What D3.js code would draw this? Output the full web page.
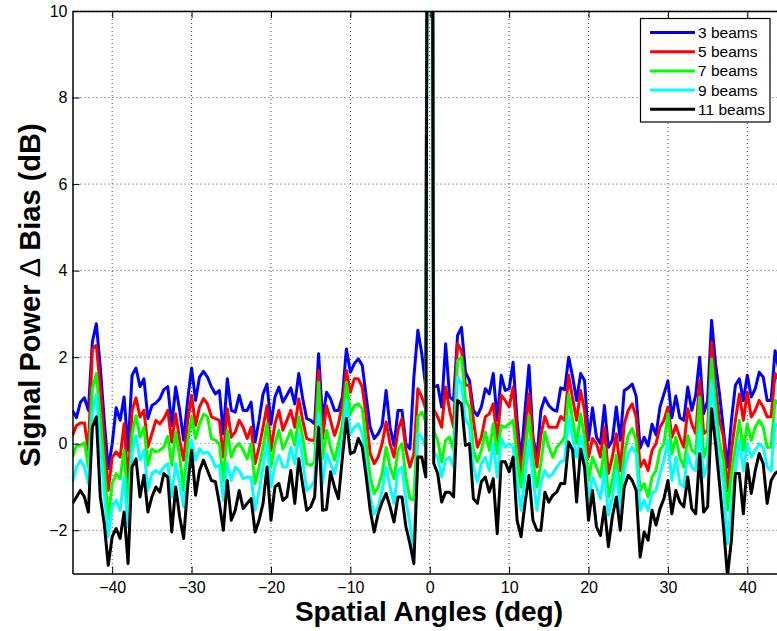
<!DOCTYPE html>
<html>
<head>
<meta charset="utf-8">
<script src="https://cdn.jsdelivr.net/npm/d3@7"></script>
<style>
body{margin:0;background:#fff;}
text{font-family:"Liberation Sans", Arial, Helvetica, sans-serif;}
</style>
</head>
<body>
<svg id="chart" width="777" height="631"></svg>
<script>
// angles sampled every 0.5 deg from -45 to 45
let angles = d3.range(-45, 45.25, 0.5);

let seriesNames = ['3 beams', '5 beams', '7 beams', '9 beams', '11 beams'];
let seriesColors = ['#0000ff', '#ff0000', '#00ff00', '#00ffff', '#000000'];

let beams3 = [
    0.77, 0.6, 0.96, 1.06, 0.77, 2.35, 2.77, 1.77, 0.54, -0.58,
    0.0, 0.83, 0.54, 1.08, -0.15, 1.58, 1.75, 1.32, 1.5, 0.58,
    0.88, 0.94, 1.04, 1.25, 1.32, 0.42, 1.31, 0.77, 0.08, 1.0,
    1.75, 1.0, 1.54, 1.67, 1.54, 1.31, 1.15, 1.23, 0.23, 1.5,
    0.77, 0.73, 1.12, 0.77, 0.77, 0.96, 0.04, 0.54, 1.15, 1.38,
    0.45, 1.08, 1.31, 0.96, 1.12, 1.29, 0.92, 1.62, 1.04, 0.58,
    0.54, 0.46, 2.08, 0.54, 1.19, 1.04, 0.77, 0.77, 1.08, 2.19,
    1.65, 1.85, 1.96, 1.81, 1.08, 0.38, 0.12, 0.23, 0.42, 1.23,
    0.38, -0.04, 0.77, 0.77, 0.0, -0.12, 1.54, 2.62, 2.08, 1.3,
    40, 1.3, 1.35, 0.85, 2.31, 1.08, 1.0, 2.5, 2.69, 1.65,
    1.46, 0.77, 0.65, 0.85, 1.27, 1.15, 1.62, 0.54, 1.58, 1.23,
    1.27, 1.88, 0.54, -0.38, 0.77, 1.81, 0.15, -0.31, 0.77, 1.06,
    0.88, 0.79, 0.75, 1.29, 1.25, 2.0, 1.54, 1.0, 1.62, 1.46,
    0.08, 0.83, 0.15, 0.0, 0.88, -0.08, 0.08, 0.85, 0.08, 1.23,
    1.29, 1.38, 1.1, -0.1, 0.15, -0.05, 0.45, 0.2, 0.85, 1.15,
    1.45, 0.6, 1.1, 0.6, 0.54, 1.31, 0.77, 1.12, 2.0, 0.69,
    1.0, 2.85, 1.85, 1.15, 0.31, -0.54, 0.54, 1.35, 1.5, 1.0,
    1.58, 1.08, 1.27, 1.65, 1.54, 1.0, 1.0, 2.15, 1.69, 1.2,
    1.4
];
let beams5 = [
    0.19, 0.42, 0.48, 0.48, -0.15, 2.19, 2.27, 1.31, 0.0, -1.08,
    -0.31, -0.19, -0.31, 0.46, -0.92, 0.77, 1.06, 0.62, 0.77, -0.08,
    0.23, 0.54, 0.46, 0.58, 0.77, 0.04, 0.69, 0.08, -0.38, 0.5,
    1.12, 0.42, 0.85, 1.04, 0.92, 0.62, 0.58, 0.54, -0.31, 0.81,
    0.15, 0.27, 0.54, 0.38, 0.12, 0.38, -0.46, -0.08, 0.38, 0.88,
    -0.15, 0.46, 0.77, 0.31, 0.54, 0.77, 0.38, 1.04, 0.54, 0.12,
    0.08, 0.08, 1.69, 0.12, 0.88, 0.54, 0.19, 0.46, 0.92, 1.69,
    1.19, 1.5, 1.5, 1.31, 0.62, -0.23, -0.46, -0.31, 0.0, 0.5,
    0.0, -0.31, 0.31, 0.58, -0.15, -0.54, -0.23, 1.27, 1.08, 0.8,
    40, 0.8, 0.62, 0.38, 1.31, 0.77, 0.38, 2.31, 2.15, 1.35,
    1.35, 0.54, -0.08, 0.15, 0.62, 0.69, 0.92, 0.08, 1.12, 1.0,
    0.85, 1.31, 0.23, -0.69, 0.15, 1.15, 0.08, -0.54, 0.2, 0.63,
    0.38, 0.38, 0.38, 0.63, 0.54, 1.58, 1.04, 0.54, 1.23, 0.77,
    -0.31, 0.12, 0.0, -0.31, 0.38, -0.69, -0.31, 0.23, -0.62, 0.46,
    0.77, 0.92, 0.62, -0.54, -0.38, -0.62, -0.15, 0.0, 0.38, 0.54,
    0.85, 0.15, 0.42, 0.15, -0.08, 0.81, 0.46, 0.23, 1.46, 0.23,
    0.31, 2.35, 1.31, 0.54, 0.15, -1.08, -0.15, 0.54, 1.15, 0.54,
    1.19, 0.62, 0.77, 1.0, 0.85, 0.62, 0.62, 1.62, 1.46, 0.9,
    1.0
];
let beams7 = [
    -0.31, -0.04, -0.04, 0.02, -0.54, 1.27, 1.62, 0.62, -0.54, -1.73,
    -0.92, -0.69, -0.81, -0.15, -1.54, 0.23, 0.65, 0.15, 0.38, -0.5,
    -0.12, -0.19, -0.15, -0.08, 0.17, -0.5, 0.27, -0.31, -1.08, 0.0,
    0.62, 0.12, 0.46, 0.68, 0.62, 0.12, 0.08, 0.0, -0.85, 0.31,
    -0.31, -0.08, 0.0, -0.15, -0.35, 0.0, -0.92, -0.54, -0.08, 0.46,
    -0.54, 0.0, 0.31, -0.12, 0.08, 0.31, -0.04, 0.62, 0.15, -0.46,
    -0.5, -0.42, 1.42, -0.35, 0.31, -0.08, -0.38, 0.0, 0.46, 1.42,
    0.69, 0.88, 0.92, 0.81, 0.0, -0.77, -1.15, -1.0, -0.69, -0.08,
    -0.54, -0.81, -0.15, 0.0, -0.77, -1.27, -1.3, 0.62, 0.73, 0.5,
    40, 0.3, 0.08, -0.42, 0.08, 0.15, -0.15, 1.92, 2.0, 1.0,
    0.85, -0.15, -0.42, -0.15, 0.27, -0.15, 0.46, -0.23, 0.42, 0.38,
    0.46, 0.54, -0.31, -1.0, -0.15, 0.65, -0.38, -1.0, -0.45, 0.27,
    -0.08, -0.31, -0.08, 0.02, 0.15, 1.15, 0.54, 0.0, 0.69, 0.15,
    -0.85, -0.31, -0.54, -0.77, -0.08, -1.23, -0.85, -0.27, -1.15, -0.23,
    0.19, 0.35, 0.08, -1.08, -0.92, -1.23, -0.77, -0.62, -0.15, 0.0,
    0.69, -0.23, 0.15, -0.31, -0.54, 0.19, -0.15, -0.23, 1.08, -0.31,
    0.0, 1.96, 0.92, 0.0, -0.38, -1.54, -0.69, -0.08, 0.54, -0.15,
    0.46, 0.08, 0.38, 0.54, 0.38, -0.08, -0.08, 1.0, 0.92, 0.4,
    0.5
];
let beams9 = [
    -0.88, -0.54, -0.38, -0.54, -0.92, 0.69, 1.15, 0.0, -1.15, -2.15,
    -1.46, -1.31, -1.54, -0.77, -1.92, -0.23, 0.19, -0.38, -0.15, -1.08,
    -0.69, -0.62, -0.69, -0.54, -0.46, -1.23, -0.46, -0.92, -1.46, -0.6,
    0.08, -0.38, -0.12, -0.23, -0.19, -0.31, -0.54, -0.5, -1.31, -0.46,
    -0.85, -0.54, -0.62, -0.81, -0.77, -0.77, -1.54, -1.08, -0.54, 0.0,
    -1.0, -0.5, -0.27, -0.54, -0.54, -0.08, -0.46, 0.23, -0.38, -1.08,
    -1.0, -0.85, 0.69, -0.92, -0.23, -0.46, -0.69, -0.31, 0.08, 1.0,
    0.23, 0.38, 0.46, 0.23, -0.46, -1.23, -1.62, -1.46, -1.08, -0.54,
    -1.0, -1.38, -0.62, -0.54, -1.31, -1.85, -2.54, 0.23, 0.15, -0.1,
    40, -0.2, -0.31, -0.77, -0.38, -0.31, -0.54, 1.54, 1.38, 0.54,
    0.42, -0.54, -0.88, -0.46, -0.31, -0.62, 0.0, -0.77, 0.12, -0.08,
    0.0, -0.08, -0.85, -1.54, -0.77, 0.08, -0.77, -1.54, -0.9, -0.62,
    -0.77, -0.69, -0.54, -0.42, -0.38, 0.62, 0.15, -0.31, 0.19, -0.23,
    -1.31, -0.77, -1.0, -1.27, -0.62, -1.65, -1.23, -0.62, -1.54, -0.62,
    -0.23, -0.08, -0.23, -1.54, -1.31, -1.54, -1.15, -1.08, -0.69, -0.38,
    0.08, -0.85, -0.31, -0.92, -1.0, -0.23, -0.54, -0.62, 0.38, -0.77,
    -0.46, 1.46, 0.54, -0.38, -0.92, -2.31, -1.38, -0.62, 0.08, -0.62,
    0.0, -0.31, -0.15, 0.0, -0.08, -0.54, -0.62, 0.46, 0.38, -0.1,
    0.0
];
let beams11 = [
    -1.38, -1.23, -1.08, -1.23, -1.58, 0.38, 0.62, -1.23, -1.85, -2.81,
    -2.15, -1.96, -2.19, -1.58, -2.77, -0.54, -0.35, -1.23, -0.73, -1.58,
    -1.23, -1.0, -1.12, -0.69, -0.77, -2.04, -1.0, -1.69, -2.19, -1.0,
    -0.15, -1.19, -0.62, -0.38, -0.62, -0.85, -0.88, -1.38, -2.0, -0.85,
    -1.77, -1.54, -1.08, -1.5, -1.38, -1.27, -2.04, -1.77, -1.38, -0.54,
    -1.77, -1.0, -0.92, -1.31, -1.23, -0.62, -1.38, -0.35, -0.96, -1.54,
    -1.46, -1.23, 0.38, -1.54, -1.52, -0.65, -1.0, -1.27, -0.31, 0.58,
    -0.23, -0.19, 0.12, -0.08, -0.77, -1.54, -2.04, -1.62, -1.35, -1.15,
    -1.46, -1.81, -1.23, -1.23, -1.92, -2.31, -2.77, -0.31, -0.31, -0.77,
    40, -0.45, -0.69, -1.35, -1.12, -1.12, -1.23, 1.0, 0.92, -0.04,
    0.0, -1.27, -1.38, -0.88, -0.77, -1.12, -0.81, -2.08, -0.42, -0.42,
    -0.65, -0.31, -1.77, -2.15, -1.38, -0.73, -1.77, -2.0, -2.0, -1.12,
    -1.35, -1.19, -1.12, -0.92, -0.92, 0.04, -0.15, -1.35, -0.12, -0.54,
    -1.77, -1.08, -1.92, -2.12, -1.46, -2.38, -1.69, -1.23, -2.0, -1.0,
    -0.73, -0.85, -1.08, -2.62, -2.04, -2.23, -1.54, -1.88, -1.5, -1.27,
    -0.85, -1.62, -1.08, -1.35, -1.46, -0.77, -1.5, -1.62, -0.23, -1.58,
    -1.46, 0.81, 0.0, -0.92, -1.92, -3.05, -2.23, -0.69, -0.69, -1.62,
    -0.46, -1.15, -0.62, -0.23, -0.46, -1.38, -0.85, -0.69, -0.62, -0.9,
    -0.8
];
let seriesValues = [beams3, beams5, beams7, beams9, beams11];

let xTicks = [-40, -30, -20, -10, 0, 10, 20, 30, 40];
let yTicks = [-2, 0, 2, 4, 6, 8, 10];

let svg = d3.select('#chart');
let plot = {left: 72.5, top: 11, right: 787, bottom: 573.5};

let x = d3.scaleLinear().domain([-45, 45]).range([plot.left, plot.right]);
let y = d3.scaleLinear().domain([-3, 10]).range([plot.bottom, plot.top]);

svg.append('rect').attr('width', 777).attr('height', 631).style('fill', 'white');

svg.append('clipPath').attr('id', 'plotClip')
    .append('rect')
    .attr('x', plot.left).attr('y', plot.top)
    .attr('width', plot.right - plot.left).attr('height', plot.bottom - plot.top);

// dotted grid
let grid = svg.append('g');
grid.selectAll('.vgrid').data(xTicks).enter().append('line')
    .attr('x1', function(d){return x(d)}).attr('x2', function(d){return x(d)})
    .attr('y1', plot.top).attr('y2', plot.bottom)
    .style('stroke', '#444').style('stroke-width', 1).style('stroke-dasharray', '1,3');
grid.selectAll('.hgrid').data(yTicks).enter().append('line')
    .attr('x1', plot.left).attr('x2', plot.right)
    .attr('y1', function(d){return y(d)}).attr('y2', function(d){return y(d)})
    .style('stroke', '#444').style('stroke-width', 1).style('stroke-dasharray', '1,3');

// data lines
let line = d3.line()
    .x(function(d){return x(d.a)})
    .y(function(d){return y(d.v)});

let lines = svg.append('g').attr('clip-path', 'url(#plotClip)');
for(let s = 0; s < seriesValues.length; s++){
    let pts = [];
    for(let i = 0; i < angles.length; i++){
        pts.push({a: angles[i], v: seriesValues[s][i]});
    }
    lines.append('path')
        .datum(pts)
        .attr('d', line)
        .style('fill', 'none')
        .style('stroke', seriesColors[s])
        .style('stroke-width', 3)
        .style('stroke-linejoin', 'round');
}

// axes with inward ticks
let tickLen = 7;
let xBottom = svg.append('g').attr('transform', 'translate(0,' + plot.bottom + ')')
    .call(d3.axisBottom(x).tickValues(xTicks).tickSizeInner(-tickLen).tickSizeOuter(0).tickPadding(8));
let xTop = svg.append('g').attr('transform', 'translate(0,' + plot.top + ')')
    .call(d3.axisTop(x).tickValues(xTicks).tickSizeInner(-tickLen).tickSizeOuter(0).tickFormat(''));
let yLeft = svg.append('g').attr('transform', 'translate(' + plot.left + ',0)')
    .call(d3.axisLeft(y).tickValues(yTicks).tickSizeInner(-tickLen).tickSizeOuter(0).tickPadding(5));

[xBottom, xTop, yLeft].forEach(function(g){
    g.select('.domain').style('stroke', '#000').style('stroke-width', 1.5);
    g.selectAll('.tick line').style('stroke', '#000').style('stroke-width', 1);
    g.selectAll('.tick text').style('font-size', '16px').style('fill', '#000')
        .style('font-family', '"Liberation Sans", Arial, sans-serif');
});

// axis titles
svg.append('text')
    .attr('x', 429).attr('y', 621)
    .attr('text-anchor', 'middle')
    .style('font-size', '28px').style('font-weight', 'bold')
    .text('Spatial Angles (deg)');

let yTitle = svg.append('text')
    .attr('transform', 'translate(40,295) rotate(-90)')
    .attr('text-anchor', 'middle')
    .style('font-size', '29px').style('font-weight', 'bold');
yTitle.append('tspan').text('Signal Power ');
yTitle.append('tspan').style('font-weight', 'normal').text('\u2206');
yTitle.append('tspan').text(' Bias (dB)');

// legend
let legend = svg.append('g');
legend.append('rect')
    .attr('x', 640.5).attr('y', 18.5).attr('width', 129.5).attr('height', 103.5)
    .style('fill', 'white').style('stroke', '#000').style('stroke-width', 1.2);
let rows = legend.selectAll('.row').data(seriesNames).enter().append('g')
    .attr('transform', function(d, i){return 'translate(0,' + (32.5 + i * 19.2) + ')'});
rows.append('line')
    .attr('x1', 650).attr('x2', 695).attr('y1', 0).attr('y2', 0)
    .style('stroke', function(d, i){return seriesColors[i]}).style('stroke-width', 3);
rows.append('text')
    .attr('x', 698).attr('y', 5.5)
    .style('font-size', '15.5px')
    .text(function(d){return d});
</script>
</body>
</html>
